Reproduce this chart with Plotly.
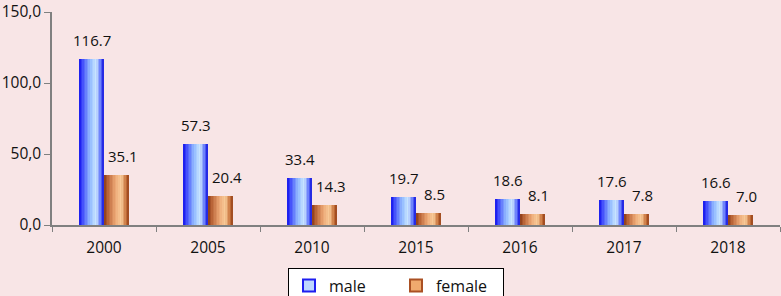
import plotly.graph_objects as go

years = ["2000", "2005", "2010", "2015", "2016", "2017", "2018"]
male = [116.7, 57.3, 33.4, 19.7, 18.6, 17.6, 16.6]
female = [35.1, 20.4, 14.3, 8.5, 8.1, 7.8, 7.0]
series_names = ["male", "female"]
y_ticks = [0, 50, 100, 150]
y_tick_text = ["0,0", "50,0", "100,0", "150,0"]

BG = "#F8E5E6"
FONT = "Open Sans"
BARW = 0.24
NSTRIP = 16

male_stops = [(0.0, (20, 20, 235)), (0.12, (60, 70, 250)), (0.45, (150, 190, 255)),
              (0.68, (205, 232, 255)), (0.88, (90, 110, 250)), (1.0, (20, 20, 220))]
female_stops = [(0.0, (140, 60, 25)), (0.15, (185, 100, 55)), (0.45, (235, 165, 115)),
                (0.68, (250, 205, 155)), (0.88, (200, 115, 60)), (1.0, (150, 65, 25))]


def grad(stops, t):
    for (t0, c0), (t1, c1) in zip(stops[:-1], stops[1:]):
        if t0 <= t <= t1:
            f = (t - t0) / (t1 - t0) if t1 > t0 else 0
            c = [round(a + (b - a) * f) for a, b in zip(c0, c1)]
            return "rgb(%d,%d,%d)" % tuple(c)
    return "rgb(%d,%d,%d)" % stops[-1][1]


fig = go.Figure()

for vals, stops, start in [(male, male_stops, -BARW), (female, female_stops, 0.0)]:
    sw = BARW / NSTRIP
    for i in range(NSTRIP):
        left = start + i * sw
        t = (i + 0.5) / NSTRIP
        fig.add_trace(go.Bar(
            x=years, y=vals, width=start + BARW - left, offset=left,
            marker=dict(color=grad(stops, t), line=dict(width=0)),
            showlegend=False, hoverinfo="skip",
        ))

# legend entries
fig.add_trace(go.Bar(x=[None], y=[None], name=series_names[0],
                     marker=dict(color="rgb(190,215,255)", line=dict(color="rgb(30,30,240)", width=2))))
fig.add_trace(go.Bar(x=[None], y=[None], name=series_names[1],
                     marker=dict(color="rgb(240,170,110)", line=dict(color="rgb(170,80,35)", width=2))))

annotations = []
for vals, xs in [(male, -12.5), (female, 18.5)]:
    for i, v in enumerate(vals):
        annotations.append(dict(
            x=i, y=v, xref="x", yref="y", text="%.1f" % v, showarrow=False,
            xshift=xs, yshift=7, yanchor="bottom", xanchor="center",
            font=dict(family=FONT, size=15, color="#111111"),
        ))

fig.update_layout(
    width=781, height=296,
    margin=dict(l=52, r=1, t=12, b=71, autoexpand=False),
    paper_bgcolor=BG, plot_bgcolor=BG,
    barmode="overlay", bargap=0,
    annotations=annotations,
    font=dict(family=FONT, size=15, color="#111111"),
    showlegend=True,
    legend=dict(
        orientation="h", x=0.4725, xanchor="center", y=-0.2, yanchor="top",
        bgcolor="white", bordercolor="black", borderwidth=1,
        font=dict(family=FONT, size=16, color="#111111"),
        itemwidth=30, entrywidth=62, traceorder="normal",
    ),
    xaxis=dict(
        type="category", categoryorder="array", categoryarray=years,
        tickson="boundaries", ticks="outside", ticklen=5, tickcolor="#808080",
        showline=True, linecolor="#808080", linewidth=1.5,
        showgrid=False, ticklabelstandoff=8,
        tickfont=dict(family=FONT, size=15.5, color="#111111"),
        range=[-0.5, 6.5], fixedrange=True,
    ),
    yaxis=dict(
        range=[0, 150], tickvals=y_ticks, ticktext=y_tick_text,
        ticks="outside", ticklen=6, tickcolor="#808080",
        showline=True, linecolor="#808080", linewidth=1.5,
        showgrid=False, zeroline=False, ticklabeloverflow="allow",
        tickfont=dict(family=FONT, size=15.5, color="#111111"),
    ),
)

fig.write_html(
    "out.html",
    config={"displayModeBar": False},
    post_script="document.body.style.margin='0';document.body.style.overflow='hidden';",
)
